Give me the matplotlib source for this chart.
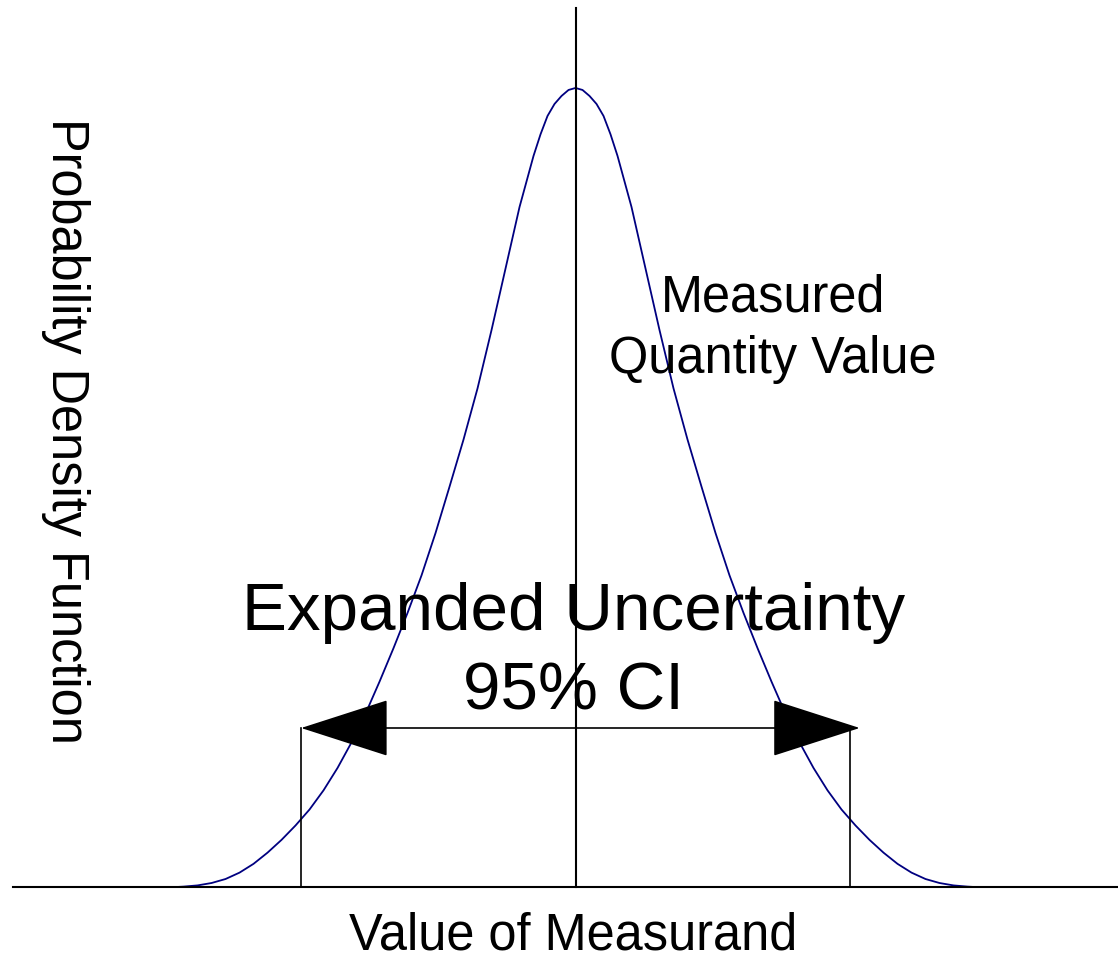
"""Expanded uncertainty sketch: PDF of a measurand with a 95% CI arrow."""
import matplotlib
matplotlib.use("Agg")
import matplotlib.pyplot as plt

plt.rcParams["font.family"] = ["Liberation Sans", "DejaVu Sans"]

# curve (x in standard-uncertainty units, y relative density)
curve_x = [-2.85, -2.8, -2.7, -2.6, -2.5, -2.4, -2.3, -2.2, -2.1, -2.0,
           -1.9, -1.8, -1.7, -1.6, -1.5, -1.4, -1.3, -1.2, -1.1, -1.0,
           -0.9, -0.8, -0.7, -0.6, -0.5, -0.4, -0.3, -0.25, -0.2, -0.15,
           -0.1, -0.05, 0.0, 0.05, 0.1, 0.15, 0.2, 0.25, 0.3, 0.4,
           0.5, 0.6, 0.7, 0.8, 0.9, 1.0, 1.1, 1.2, 1.3, 1.4,
           1.5, 1.6, 1.7, 1.8, 1.9, 2.0, 2.1, 2.2, 2.3, 2.4,
           2.5, 2.6, 2.7, 2.8, 2.85]
curve_y = [0.0, 0.0005, 0.002, 0.005, 0.010, 0.018, 0.029, 0.043, 0.059, 0.077,
           0.097, 0.121, 0.149, 0.181, 0.217, 0.257, 0.299, 0.343, 0.390, 0.443,
           0.501, 0.560, 0.624, 0.697, 0.774, 0.851, 0.915, 0.942, 0.965, 0.980,
           0.990, 0.9975, 1.0, 0.9975, 0.990, 0.980, 0.965, 0.942, 0.915, 0.851,
           0.774, 0.697, 0.624, 0.560, 0.501, 0.443, 0.390, 0.343, 0.299, 0.257,
           0.217, 0.181, 0.149, 0.121, 0.097, 0.077, 0.059, 0.043, 0.029, 0.018,
           0.010, 0.005, 0.002, 0.0005, 0.0]

measured_value = 0.0
ci_low, ci_high = -1.96, 1.96
arrow_tip_right = 2.03
arrow_level = 0.199
line_top = 1.10

fig = plt.figure(figsize=(11.18, 9.59), dpi=100)
ax = fig.add_axes([0, 0, 1, 1])
ax.set_xlim(-4.111, 3.875)
ax.set_ylim(-0.0901, 1.1101)
ax.axis("off")

ax.plot(curve_x, curve_y, color="#000080", lw=1.3, zorder=2)

# baseline and reference lines
ax.plot([-4.018, 3.875], [0, 0], color="black", lw=1.5)
ax.plot([measured_value, measured_value], [0, line_top], color="black", lw=1.5)
ax.plot([ci_low, ci_low], [0, arrow_level], color="black", lw=1.2)
ax.plot([ci_high, ci_high], [0, arrow_level], color="black", lw=1.2)

ax.annotate("", xy=(arrow_tip_right, arrow_level), xytext=(ci_low, arrow_level),
            arrowprops=dict(arrowstyle="<|-|>,head_length=5.9,head_width=1.9",
                            mutation_scale=10, lw=1.2, color="black",
                            shrinkA=0, shrinkB=0), zorder=3)

big = 48.5
small = 36.4
ax.text(-0.015, 0.322, "Expanded Uncertainty", fontsize=big,
        ha="center", va="baseline")
ax.text(-0.015, 0.222, "95% CI", fontsize=big, ha="center", va="baseline")
ax.text(1.411, 0.720, "Measured", fontsize=small, ha="center", va="baseline")
ax.text(1.411, 0.643, "Quantity Value", fontsize=small, ha="center",
        va="baseline")
ax.text(-0.015, -0.0776, "Value of Measurand", fontsize=small, ha="center",
        va="baseline")
ax.text(-3.646, 0.571, "Probability Density Function", fontsize=small,
        rotation=270, ha="center", va="center")

fig.savefig("out.png", dpi=100)
